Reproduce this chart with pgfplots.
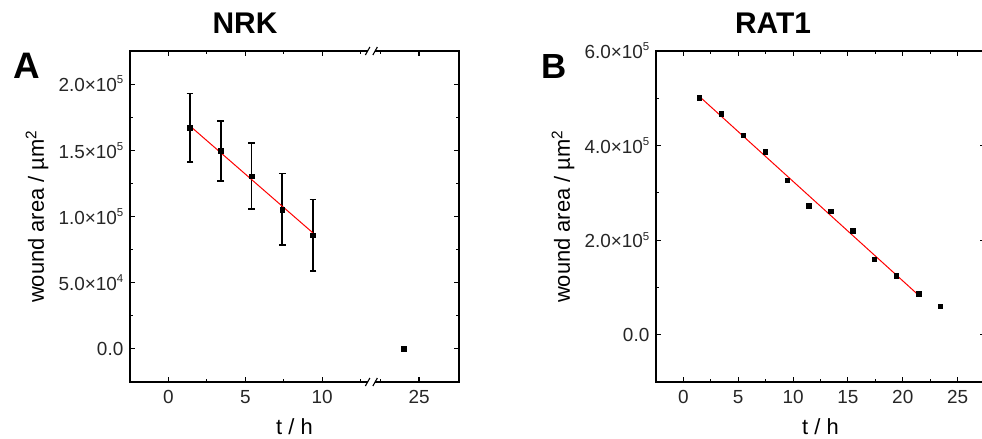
\documentclass[border=0pt]{standalone}
\usepackage{fontspec}
\setmainfont{Liberation Sans}
\usepackage{pgfplots}
\pgfplotsset{compat=1.18}

% Origin-style "x10^n": small superscript, hardly raised
\newcommand{\sci}[2]{#1×10\raisebox{0.42em}{\fontsize{11.5}{11.5}\selectfont #2}}

\pgfplotsset{panel/.style={
  scale only axis, width=329bp, height=331bp,
  scaled ticks=false, clip=false,
  /pgf/number format/assume math mode=true,
  axis line style={line width=1.7bp, black},
  tick align=inside, tick style={line width=1.1bp, black},
  major tick length=5bp, minor tick length=3bp,
  ticklabel style={font=\fontsize{19}{19}\selectfont, text=black!85},
  yticklabel style={anchor=east, inner sep=0pt, xshift=-6.5bp},
  xticklabel style={anchor=north, inner sep=0pt, yshift=-8bp},
  every axis x label/.style={at={(axis description cs:0.5,-0.160)},
    anchor=base, font=\fontsize{22}{22}\selectfont},
  every axis y label/.style={at={(axis description cs:-0.262,0.5)},
    anchor=base, rotate=90, font=\fontsize{22}{22}\selectfont},
  xlabel={t / h}, ylabel={wound area / µm\textsuperscript{2}},
}}
\tikzset{
  pts/.style={only marks, mark=square*, mark size=2.3bp, black},
  fit/.style={red, line width=1bp, no marks},
}

\begin{document}
\begin{tikzpicture}

% ---------------- A: NRK (x axis broken between 12.5 and 22.5 h) ------
% right of the break everything is drawn 8.7 h to the left: 25 h -> 16.3
\begin{axis}[panel, at={(130bp,-382bp)}, anchor=south west,
  xmin=-2.5, xmax=18.9, ymin=-25000, ymax=225000,
  xtick={0,5,10,16.3}, xticklabels={0,5,10,25},
  minor xtick={2.5,7.5,12.5,13.8},
  ytick={0,50000,100000,150000,200000},
  yticklabels={0.0,\sci{5.0}{4},\sci{1.0}{5},\sci{1.5}{5},\sci{2.0}{5}},
  minor y tick num=1,
]
  \addplot[pts, error bars/.cd, y dir=both, y explicit,
    error bar style={line width=1.7bp, black},
    error mark options={rotate=90, mark size=3.3bp, line width=1.5bp, black}]
    coordinates {
      (1.4,167000) +- (0,26000)
      (3.4,149500) +- (0,22500)
      (5.4,130500) +- (0,25000)
      (7.4,105300) +- (0,27000)
      (9.4,85800)  +- (0,27000)
    };
  % 24 h, past the break
  \addplot[pts] coordinates {(15.3,0)};
  \addplot[fit] coordinates {(1.4,168400) (9.4,87600)};
  \coordinate (brkT) at (axis cs:13.2,225000);
  \coordinate (brkB) at (axis cs:13.2,-25000);
\end{axis}

\foreach \p in {brkT,brkB}{
  \fill[white] ([xshift=-3.5bp,yshift=-1.5bp]\p) rectangle ([xshift=3.5bp,yshift=1.5bp]\p);
  \draw[line width=1.1bp] ([xshift=-6bp,yshift=-4bp]\p) -- ([xshift=-1.5bp,yshift=4bp]\p);
  \draw[line width=1.1bp] ([xshift=1.5bp,yshift=-4bp]\p) -- ([xshift=6bp,yshift=4bp]\p);
}

% ---------------- B: RAT1 ------------------------------------------
\begin{axis}[panel, at={(656bp,-382bp)}, anchor=south west,
  xmin=-2.5, xmax=27.5, ymin=-100000, ymax=600000,
  xtick={0,5,...,25}, minor x tick num=1,
  ytick={0,200000,400000,600000},
  yticklabels={0.0,\sci{2.0}{5},\sci{4.0}{5},\sci{6.0}{5}},
  minor y tick num=1,
]
  \addplot[pts] coordinates {
    (1.45,501800) (3.45,467200) (5.45,421900) (7.45,387300)
    (9.45,326500) (11.45,272800) (13.45,261600) (15.45,219800)
    (17.4,159800) (19.4,124400) (21.45,86900) (23.4,60200)
  };
  \addplot[fit] coordinates {(1.5,503000) (21.4,84500)};
\end{axis}

\node[anchor=base, inner sep=0pt, font=\bfseries\fontsize{30}{30}\selectfont]
  at (245bp,-33.3bp) {NRK};
\node[anchor=base, inner sep=0pt, font=\bfseries\fontsize{30}{30}\selectfont]
  at (773bp,-33.3bp) {RAT1};
\node[anchor=base west, inner sep=0pt, font=\bfseries\fontsize{37}{37}\selectfont]
  at (13bp,-78.3bp) {A};
\node[anchor=base west, inner sep=0pt, font=\bfseries\fontsize{35}{35}\selectfont]
  at (541bp,-78.3bp) {B};

\pgfresetboundingbox
\path[use as bounding box] (0bp,0bp) rectangle (982bp,-439bp);
\end{tikzpicture}
\end{document}
